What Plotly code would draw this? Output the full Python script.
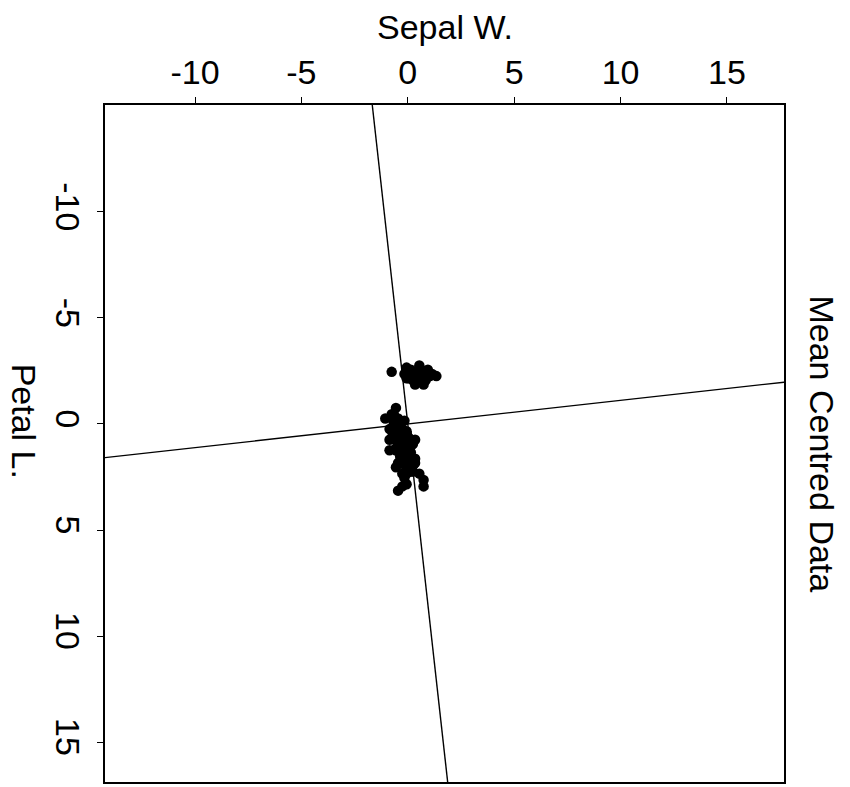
import numpy as np
import plotly.graph_objects as go

# Iris measurements (Sepal Width, Petal Length), read to match the plotted clusters
sepal_w = [3.5,3.0,3.2,3.1,3.6,3.9,3.4,3.4,2.9,3.1,3.7,3.4,3.0,3.0,4.0,4.4,3.9,3.5,3.8,3.8,
           3.4,3.7,3.6,3.3,3.4,3.0,3.4,3.5,3.4,3.2,3.1,3.4,4.1,4.2,3.1,3.2,3.5,3.6,3.0,3.4,
           3.5,2.3,3.2,3.5,3.8,3.0,3.8,3.2,3.7,3.3,
           3.2,3.2,3.1,2.3,2.8,2.8,3.3,2.4,2.9,2.7,2.0,3.0,2.2,2.9,2.9,3.1,3.0,2.7,2.2,2.5,
           3.2,2.8,2.5,2.8,2.9,3.0,2.8,3.0,2.9,2.6,2.4,2.4,2.7,2.7,3.0,3.4,3.1,2.3,3.0,2.5,
           2.6,3.0,2.6,2.3,2.7,3.0,2.9,2.9,2.5,2.8,
           3.3,2.7,3.0,2.9,3.0,3.0,2.5,2.9,2.5,3.6,3.2,2.7,3.0,2.5,2.8,3.2,3.0,3.8,2.6,2.2,
           3.2,2.8,2.8,2.7,3.3,3.2,2.8,3.0,2.8,3.0,2.8,3.8,2.8,2.8,2.6,3.0,3.4,3.1,3.0,3.1,
           3.1,3.1,2.7,3.2,3.3,3.0,2.5,3.0,3.4,3.0]
petal_l = [1.4,1.4,1.3,1.5,1.4,1.7,1.4,1.5,1.4,1.5,1.5,1.6,1.4,1.1,1.2,1.5,1.3,1.4,1.7,1.5,
           1.7,1.5,1.0,1.7,1.9,1.6,1.6,1.5,1.4,1.6,1.6,1.5,1.5,1.4,1.5,1.2,1.3,1.4,1.3,1.5,
           1.3,1.3,1.3,1.6,1.9,1.4,1.6,1.4,1.5,1.4,
           4.7,4.5,4.9,4.0,4.6,4.5,4.7,3.3,4.6,3.9,3.5,4.2,4.0,4.7,3.6,4.4,4.5,4.1,4.5,3.9,
           4.8,4.0,4.9,4.7,4.3,4.4,4.8,5.0,4.5,3.5,3.8,3.7,3.9,5.1,4.5,4.5,4.7,4.4,4.1,4.0,
           4.4,4.6,4.0,3.3,4.2,4.2,4.2,4.3,3.0,4.1,
           6.0,5.1,5.9,5.6,5.8,6.6,4.5,6.3,5.8,6.1,5.1,5.3,5.5,5.0,5.1,5.3,5.5,6.7,6.9,5.0,
           5.7,4.9,6.7,4.9,5.7,6.0,4.8,4.9,5.6,5.8,6.1,6.4,5.6,5.1,5.6,6.1,5.6,5.5,4.8,5.4,
           5.6,5.1,5.1,5.9,5.7,5.2,5.0,5.2,5.4,5.1]

# Axis lines through the origin (slopes)
axis1_dx_per_dy = 0.111    # near-vertical line
axis2_dy_per_dx = -0.1115  # near-horizontal line

tick_vals = [-10, -5, 0, 5, 10, 15]
tick_text = ["-10", "-5", "0", "5", "10", "15"]
x_range = [-14.23, 17.68]
y_range = [16.88, -15.04]

sw = np.array(sepal_w) - np.mean(sepal_w)
pl = np.array(petal_l) - np.mean(petal_l)

t = np.array([-40.0, 40.0])

fig = go.Figure()
fig.add_trace(go.Scatter(x=axis1_dx_per_dy * t, y=t, mode="lines",
                         line=dict(color="black", width=1.4), hoverinfo="skip"))
fig.add_trace(go.Scatter(x=t, y=axis2_dy_per_dx * t, mode="lines",
                         line=dict(color="black", width=1.4), hoverinfo="skip"))
fig.add_trace(go.Scatter(x=sw, y=pl, mode="markers",
                         marker=dict(color="black", size=10.5, line=dict(width=0))))

FONT = "Liberation Sans, Arial, Helvetica, sans-serif"
FS = 34
fig.update_layout(
    width=850, height=787,
    margin=dict(l=97, r=74, t=97, b=11),
    paper_bgcolor="white", plot_bgcolor="white",
    showlegend=False,
    font=dict(family=FONT, size=FS, color="black"),
    xaxis=dict(range=x_range, side="top", tickvals=tick_vals, ticktext=tick_text,
               ticks="outside", ticklen=6, tickwidth=1, tickcolor="black",
               showline=True, linecolor="black", linewidth=1.6, mirror=True,
               showgrid=False, zeroline=False, tickfont=dict(size=FS)),
    yaxis=dict(range=y_range, tickvals=tick_vals, ticktext=tick_text,
               ticks="outside", ticklen=6, tickwidth=1, tickcolor="black",
               showline=True, linecolor="black", linewidth=1.6, mirror=True,
               showgrid=False, zeroline=False, tickangle=90, tickfont=dict(size=FS)),
    annotations=[
        dict(text="Sepal W.", xref="paper", yref="paper", x=0.5, y=1.115,
             xanchor="center", yanchor="middle", showarrow=False, font=dict(size=FS)),
        dict(text="Petal L.", xref="paper", yref="paper", x=-0.12, y=0.533,
             xanchor="center", yanchor="middle", showarrow=False, textangle=90,
             font=dict(size=FS)),
        dict(text="Mean Centred Data", xref="paper", yref="paper", x=1.056, y=0.5,
             xanchor="center", yanchor="middle", showarrow=False, textangle=90,
             font=dict(size=FS)),
    ],
)

fig.write_html("out.html")
